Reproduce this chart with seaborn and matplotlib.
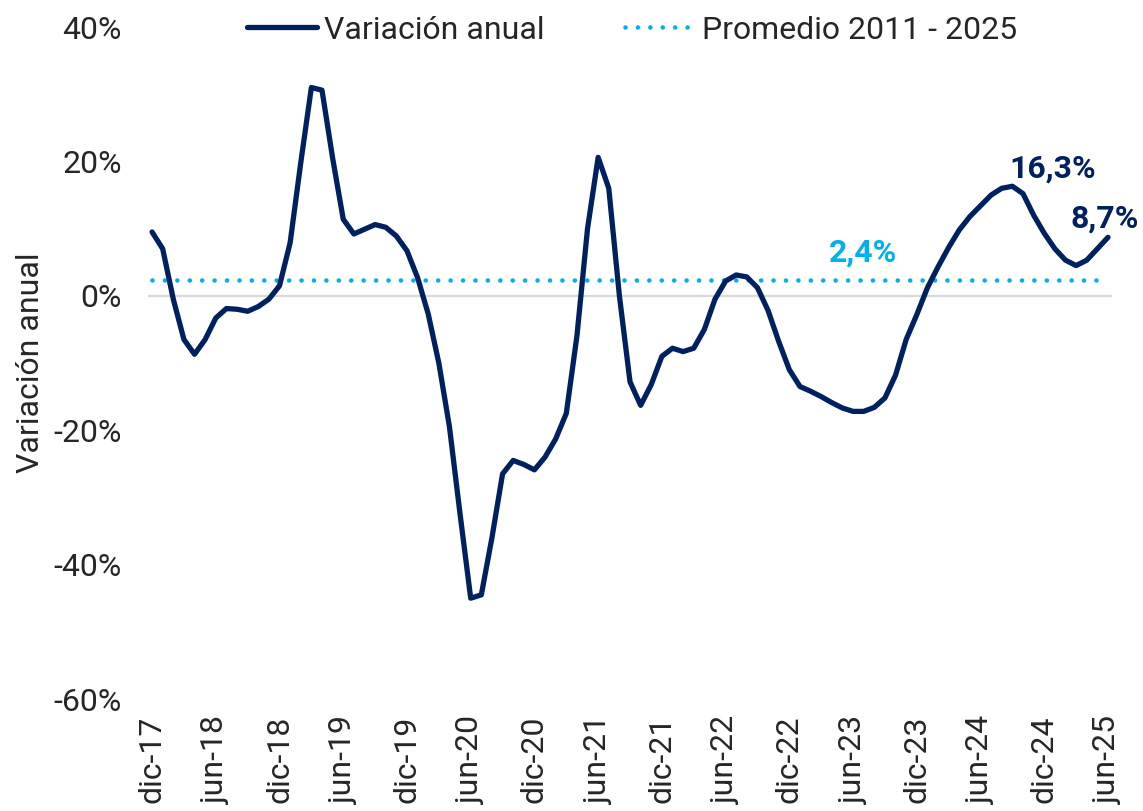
import numpy as np
import pandas as pd
import matplotlib
matplotlib.use('Agg')
import matplotlib.pyplot as plt
import seaborn as sns

# Monthly annual variation (%), dic-17 .. jun-25
fechas = pd.date_range('2017-12-01', '2025-06-01', freq='MS')
variacion = [
    9.5, 7.0, -0.5, -6.5, -8.7, -6.5, -3.3, -1.9, -2.0, -2.3, -1.6, -0.5,
    1.5, 7.9, 19.8, 31.0, 30.6, 20.5, 11.4, 9.2, 9.9, 10.6, 10.2, 8.9,
    6.7, 2.7, -2.7, -10.0, -19.5, -32.5, -45.0, -44.5, -36.0, -26.5, -24.5, -25.1,
    -25.9, -24.0, -21.3, -17.5, -6.0, 10.0, 20.6, 16.0, 0.0, -12.8, -16.3, -13.2,
    -9.0, -7.8, -8.3, -7.8, -5.0, -0.5, 2.2, 3.1, 2.8, 1.2, -2.2, -6.8,
    -11.0, -13.5, -14.2, -15.0, -15.9, -16.7, -17.2, -17.2, -16.6, -15.2, -11.8, -6.5,
    -2.8, 1.2, 4.3, 7.2, 9.8, 11.8, 13.4, 15.0, 16.0, 16.3, 15.2, 12.0,
    9.3, 7.0, 5.3, 4.5, 5.3, 7.0, 8.7,
]
promedio = 2.4
etiquetas = ['dic-17', 'jun-18', 'dic-18', 'jun-19', 'dic-19', 'jun-20', 'dic-20', 'jun-21',
             'dic-21', 'jun-22', 'dic-22', 'jun-23', 'dic-23', 'jun-24', 'dic-24', 'jun-25']

df = pd.DataFrame({'mes': np.arange(len(fechas)), 'variacion': variacion})
df_prom = pd.DataFrame({'mes': [df.mes.iloc[0], df.mes.iloc[-1]], 'valor': [promedio, promedio]})

NAVY = '#002060'
CYAN = '#00b0f0'
TXT = '#262626'
FS = 23

sns.set_theme(style='white')
plt.rcParams['font.family'] = ['Roboto', 'DejaVu Sans']

fig = plt.figure(figsize=(11.43, 8.11), dpi=100)
ax = fig.add_axes([0.1295, 0.1381, 0.8434, 0.8286])

ax.axhline(0, color='#d9d9d9', lw=1.6, zorder=1)
sns.lineplot(data=df, x='mes', y='variacion', color=NAVY, lw=3.8, ax=ax,
             solid_joinstyle='round', solid_capstyle='round',
             label='Variación anual', zorder=3)
sns.lineplot(data=df_prom, x='mes', y='valor', color=CYAN, lw=3.3, ax=ax,
             linestyle=(0, (0.01, 2.7)), dash_capstyle='round',
             label='Promedio 2011 - 2025', zorder=2)

ax.set_xlim(-0.38, len(df) - 1 + 0.38)
ax.set_ylim(-60, 40)
ax.set_yticks(np.arange(-60, 41, 20))
ax.set_yticklabels([f'{v}%' for v in range(-60, 41, 20)])
ax.set_xticks(df.mes.iloc[::6])
ax.set_xticklabels(etiquetas, rotation=90, ha='center', va='top')
ax.tick_params(axis='y', length=0, pad=19, labelsize=FS, labelcolor=TXT)
ax.tick_params(axis='x', length=0, pad=12, labelsize=FS, labelcolor=TXT)
ax.set_xlabel('')
ax.set_ylabel('Variación anual', fontsize=FS, color=TXT)
ax.yaxis.set_label_coords(-0.107, 0.5)
sns.despine(ax=ax, left=True, bottom=True)

# data labels
ax.annotate('16,3%', (df.mes.iloc[81], variacion[81]), xytext=(-3, 3),
            textcoords='offset pixels', ha='left', va='bottom',
            fontsize=FS, fontweight='bold', color=NAVY)
ax.annotate('8,7%', (df.mes.iloc[-1], variacion[-1]), xytext=(-3, 4),
            textcoords='offset pixels', ha='center', va='bottom',
            fontsize=FS, fontweight='bold', color=NAVY)
ax.annotate('2,4%', (df.mes.iloc[66], promedio), xytext=(10, 12),
            textcoords='offset pixels', ha='center', va='bottom',
            fontsize=FS, fontweight='bold', color=CYAN)

ax.legend(loc='center', bbox_to_anchor=(0.502, 0.9955), ncol=2, frameon=False,
          fontsize=FS, handlelength=2.2, handletextpad=0.22, columnspacing=2.5,
          labelcolor=TXT)

fig.savefig('out.png', dpi=100, facecolor='white')
